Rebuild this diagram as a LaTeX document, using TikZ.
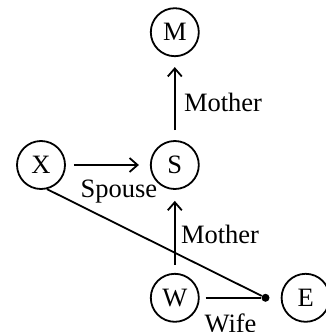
\documentclass[tikz,border=0pt]{standalone}
\usepackage{fontspec}
\setmainfont{Liberation Serif}
\usetikzlibrary{arrows.meta,positioning}

\begin{document}
\begin{tikzpicture}[>={Straight Barb[length=8pt,width=14pt]}, node distance=83pt and 83pt,
 every node/.style={font=\fontsize{26.5}{30}\selectfont}, person/.style={draw,circle,line width=1.8pt,
 minimum size=48pt,inner sep=0pt}, link/.style={line width=1.8pt},
 joint/.style={circle,fill,inner sep=0pt,minimum size=8pt}]
\useasboundingbox (0,0) rectangle (326pt,-332pt);
\node[person] (x) at (41pt,-165pt) {X};
\node[person,right=84pt of x] (s) {S};
\node[person,above=of s] (m) {M};
\node[person,below=of s] (w) {W};
\node[person,right=81pt of w] (e) {E};
\node[joint,left=11pt of e] (j) {};
\draw[link,->,shorten <=8pt,shorten >=11pt] (x)--(s)
 node[midway,below=11pt,xshift=11pt] {Spouse};
\draw[link,->,shorten <=10pt,shorten >=10pt] (s)--(m)
 node[midway,right=5pt,yshift=-4pt] {Mother};
\draw[link,->,shorten <=8pt,shorten >=11pt] (w)--(s)
 node[midway,right=2pt,yshift=-3pt] {Mother};
\draw[link,shorten <=6pt] (w)--(j) node[midway,below=12pt] {Wife};
\draw[link] (x.-76)--(j);
\end{tikzpicture}
\end{document}
